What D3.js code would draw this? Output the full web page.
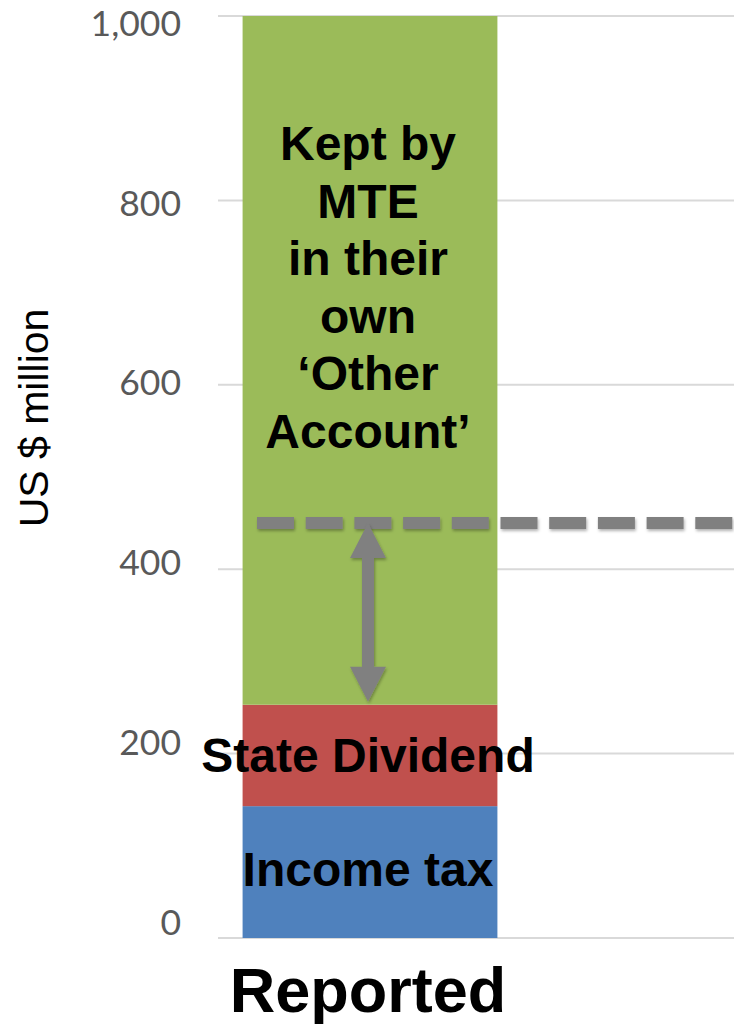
<!DOCTYPE html>
<html>
<head>
<meta charset="utf-8">
<script src="https://cdn.jsdelivr.net/npm/d3@7"></script>
<style>
body { margin: 0; background: #fff; }
svg { display: block; }
</style>
</head>
<body>
<svg id="chart"></svg>
<script>
var width = 734;
var height = 1024;

var categories = ["Reported"];
var seriesNames = ["Income tax", "State Dividend", "Kept by MTE"];
var seriesValues = [143, 110, 747];
var seriesColors = ["#4F81BD", "#C0504D", "#9BBB59"];
var tickValues = [0, 200, 400, 600, 800, 1000];
var levelValue = 450;

var keptLines = ["Kept by", "MTE", "in their", "own", "\u2018Other", "Account\u2019"];

var y = d3.scaleLinear().domain([0, 1000]).range([938, 16]);
// tick labels sit a little off the gridlines in the original
var yLabel = d3.scaleLinear().domain([0, 1000]).range([923, 24]);
var x = d3.scaleBand().domain(categories).range([218, 522]).paddingInner(0.088).paddingOuter(0.088);

var svg = d3.select("#chart").attr("width", width).attr("height", height);

// grid
svg.append("g")
	.selectAll("line").data(tickValues).enter()
	.append("line")
	.attr("x1", 218).attr("x2", width)
	.attr("y1", function(d) { return y(d); })
	.attr("y2", function(d) { return y(d); })
	.attr("stroke", "#d9d9d9")
	.attr("stroke-width", 2);

// y axis labels
var yAxis = d3.axisLeft(yLabel).tickValues(tickValues).tickSize(0).tickPadding(0)
	.tickFormat(d3.format(","));
var gy = svg.append("g").attr("transform", "translate(181,0)").call(yAxis);
gy.select(".domain").remove();
gy.selectAll("text")
	.attr("font-family", "Lato, 'Open Sans', sans-serif")
	.attr("font-size", 35.5)
	.attr("fill", "#595959");

// stacked bar
var stacked = [];
var acc = 0;
seriesValues.forEach(function(v, i) {
	stacked.push({ name: seriesNames[i], y0: acc, y1: acc + v, color: seriesColors[i] });
	acc += v;
});

svg.append("g")
	.selectAll("rect").data(stacked).enter()
	.append("rect")
	.attr("x", x("Reported"))
	.attr("width", x.bandwidth())
	.attr("y", function(d) { return y(d.y1); })
	.attr("height", function(d) { return y(d.y0) - y(d.y1); })
	.attr("fill", function(d) { return d.color; });

var cx = x("Reported") + x.bandwidth() / 2 - 2;

// shadow filter (user space so the flat line still gets it)
var defs = svg.append("defs");
var f = defs.append("filter").attr("id", "shadow")
	.attr("filterUnits", "userSpaceOnUse")
	.attr("x", 0).attr("y", 0).attr("width", width).attr("height", height);
f.append("feDropShadow").attr("dx", 1).attr("dy", 2).attr("stdDeviation", 1.5)
	.attr("flood-color", "#000").attr("flood-opacity", 0.3);

// dashed level line
svg.append("line")
	.attr("x1", 257).attr("x2", width + 20)
	.attr("y1", y(levelValue)).attr("y2", y(levelValue))
	.attr("stroke", "#808080")
	.attr("stroke-width", 12)
	.attr("stroke-dasharray", "37,11.7")
	.attr("filter", "url(#shadow)");

// double arrow between level and top of dividend
var aTop = y(levelValue);
var aBot = y(seriesValues[0] + seriesValues[1]) - 3;
var headL = 35, headW = 18, shaftW = 6;
var arrow = [
	[cx, aTop],
	[cx + headW, aTop + headL],
	[cx + shaftW, aTop + headL],
	[cx + shaftW, aBot - headL],
	[cx + headW, aBot - headL],
	[cx, aBot],
	[cx - headW, aBot - headL],
	[cx - shaftW, aBot - headL],
	[cx - shaftW, aTop + headL],
	[cx - headW, aTop + headL]
];
svg.append("path")
	.attr("d", d3.line()(arrow) + "Z")
	.attr("fill", "#808080")
	.attr("filter", "url(#shadow)");

// labels inside bar
var labelFont = "'Liberation Sans', Arial, sans-serif";
var kept = svg.append("text")
	.attr("text-anchor", "middle")
	.attr("font-family", labelFont)
	.attr("font-weight", "bold")
	.attr("font-size", 48)
	.attr("fill", "#000");
kept.selectAll("tspan").data(keptLines).enter()
	.append("tspan")
	.attr("x", cx)
	.attr("y", function(d, i) { return 160 + i * 57.6; })
	.text(function(d) { return d; });

svg.append("text")
	.attr("x", cx).attr("y", 772)
	.attr("text-anchor", "middle")
	.attr("font-family", labelFont)
	.attr("font-weight", "bold")
	.attr("font-size", 48)
	.text(seriesNames[1]);

svg.append("text")
	.attr("x", cx).attr("y", 886)
	.attr("text-anchor", "middle")
	.attr("font-family", labelFont)
	.attr("font-weight", "bold")
	.attr("font-size", 48)
	.text(seriesNames[0]);

// category label
svg.append("text")
	.attr("x", cx).attr("y", 1012)
	.attr("text-anchor", "middle")
	.attr("font-family", labelFont)
	.attr("font-weight", "bold")
	.attr("font-size", 63)
	.text(categories[0]);

// y title
svg.append("text")
	.attr("transform", "translate(48,418) rotate(-90)")
	.attr("text-anchor", "middle")
	.attr("font-family", labelFont)
	.attr("font-size", 41)
	.attr("fill", "#000")
	.text("US $ million");
</script>
</body>
</html>
